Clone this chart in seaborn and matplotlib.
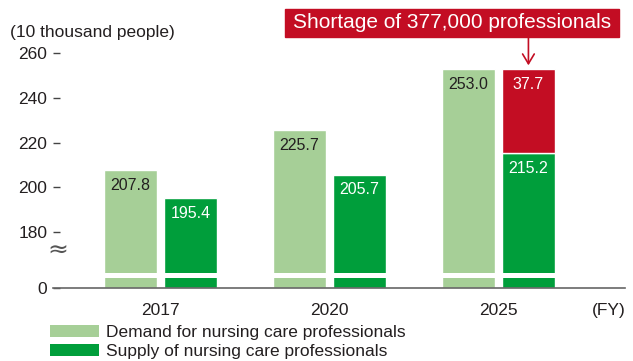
import numpy as np
import pandas as pd
import matplotlib
matplotlib.use("Agg")
import matplotlib.pyplot as plt
from matplotlib.patches import Patch, Rectangle
import seaborn as sns

# ---- data ----
years = ["2017", "2020", "2025"]
demand = [207.8, 225.7, 253.0]
supply = [195.4, 205.7, 215.2]
shortage_2025 = 37.7
series_names = ["Demand for nursing care professionals", "Supply of nursing care professionals"]
yticks = [0, 180, 200, 220, 240, 260]
title_text = "Shortage of 377,000 professionals"
ylabel_text = "(10 thousand people)"

LIGHT = "#a6cf97"
DARK = "#009e3b"
RED = "#c30d23"
TXT = "#231f20"

sns.set_theme(style="white")
plt.rcParams["font.family"] = ["Liberation Sans", "DejaVu Sans"]

df = pd.DataFrame({
    "year": years * 2,
    "value": demand + supply,
    "type": [series_names[0]] * 3 + [series_names[1]] * 3,
})

fig = plt.figure(figsize=(6.33, 3.61), dpi=100)
ax = fig.add_axes([53 / 633, 0.202, (625 - 53) / 633, 0.687])

sns.barplot(data=df, x="year", y="value", hue="type", hue_order=series_names,
            palette=[LIGHT, DARK], saturation=1, width=0.71, gap=0.115,
            legend=False, ax=ax, zorder=2)

# shortage stacked on 2025 supply
sp = ax.containers[1].patches[2]
xc = sp.get_x() + sp.get_width() / 2
ax.bar(xc, shortage_2025, bottom=supply[2], width=sp.get_width(), color=RED, zorder=2)

# broken axis scale
BREAK = 180.0
LOWH = 25.0
def fwd(v):
    v = np.asarray(v, dtype=float)
    return np.where(v < BREAK, v * LOWH / BREAK, v - BREAK + LOWH)
def inv(t):
    t = np.asarray(t, dtype=float)
    return np.where(t < LOWH, t * BREAK / LOWH, t + BREAK - LOWH)
ax.set_yscale("function", functions=(fwd, inv))
ax.set_ylim(0, 265.9)
ax.set_xlim(-0.636, 2.749)

# white band across bars (axis break)
ax.axhspan(32, 48, color="white", zorder=3, lw=0)

# value labels
for cont, vals, col in [(ax.containers[0], demand, TXT), (ax.containers[1], supply, "white")]:
    for p, v in zip(cont.patches, vals):
        ax.annotate(f"{v:.1f}", (p.get_x() + p.get_width() / 2, v), xytext=(0, -11),
                    textcoords="offset points", ha="center", va="center",
                    fontsize=11.5, color=col, zorder=4)
ax.annotate(f"{shortage_2025:.1f}", (xc, supply[2] + shortage_2025), xytext=(0, -11),
            textcoords="offset points", ha="center", va="center", fontsize=11.5,
            color="white", zorder=4)

# axes styling
for s in ["top", "right", "left"]:
    ax.spines[s].set_visible(False)
ax.spines["bottom"].set_color("#666666")
ax.spines["bottom"].set_linewidth(1.2)
ax.set_yticks(yticks)
ax.set_yticklabels([str(t) for t in yticks])
ax.tick_params(axis="y", direction="in", length=5, width=1, color="#444444",
               pad=4, labelsize=12.5, labelcolor=TXT, left=True)
ax.tick_params(axis="x", length=0, pad=10.5, labelsize=12.5, labelcolor=TXT)
ax.set_xlabel("")
ax.set_ylabel("")

# break symbol
fig.text(58 / 633, 1 - 251 / 361, "\u2248", fontsize=18, ha="center", va="center",
         color="#555555", family=["DejaVu Sans", "Liberation Sans"])

# texts
fig.text(10 / 633, 1 - 33 / 361, ylabel_text, fontsize=12.5, ha="left", va="center", color=TXT)
fig.text(626 / 633, 1 - 310 / 361, "(FY)", fontsize=12.5, ha="right", va="center", color=TXT)

# shortage box and arrow
fig.patches.append(Rectangle((285 / 633, 1 - 37 / 361), (619 - 285) / 633, 28 / 361,
                             transform=fig.transFigure, color=RED, zorder=5))
fig.text((285 + 619) / 2 / 633, 1 - 23 / 361, title_text, fontsize=15, color="white",
         ha="center", va="center", zorder=6)
top_t = ax.transData.inverted().transform(fig.transFigure.transform((0, 1 - 37 / 361)))[1]
ax.annotate("", xy=(xc, 254.6), xytext=(xc, top_t), annotation_clip=False,
            arrowprops=dict(arrowstyle="->,head_length=0.5,head_width=0.3", color=RED,
                            lw=1.2, shrinkA=0, shrinkB=0, mutation_scale=14))

# legend
handles = [Patch(facecolor=LIGHT, edgecolor="none"), Patch(facecolor=DARK, edgecolor="none")]
fig.legend(handles, series_names, loc="upper left", bbox_to_anchor=(50 / 633, 1 - 325 / 361),
           frameon=False, fontsize=12.5, handlelength=2.8, handleheight=0.65,
           labelspacing=0.22, handletextpad=0.45, borderpad=0, borderaxespad=0,
           labelcolor=TXT)

fig.savefig("out.png", dpi=100)
